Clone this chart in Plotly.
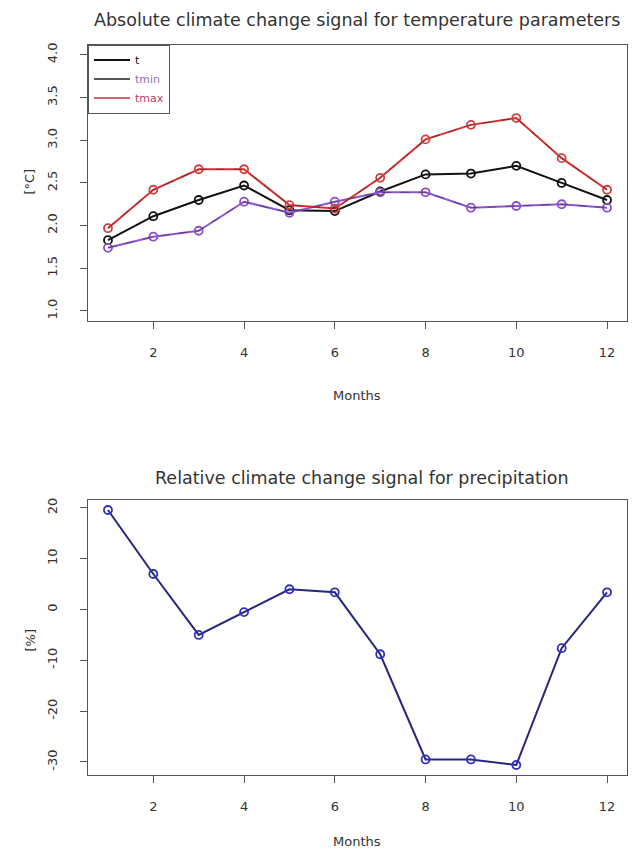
import plotly.graph_objects as go

months = list(range(1, 13))
t_vals = [1.83, 2.11, 2.30, 2.47, 2.18, 2.17, 2.40, 2.60, 2.61, 2.70, 2.50, 2.30]
tmin_vals = [1.74, 1.87, 1.94, 2.28, 2.15, 2.28, 2.39, 2.39, 2.21, 2.23, 2.25, 2.21]
tmax_vals = [1.97, 2.42, 2.66, 2.66, 2.24, 2.20, 2.56, 3.01, 3.18, 3.26, 2.79, 2.42]
precip_vals = [19.6, 7.0, -5.0, -0.5, 4.0, 3.4, -8.8, -29.5, -29.5, -30.6, -7.6, 3.4]

temp_ticks = [1.0, 1.5, 2.0, 2.5, 3.0, 3.5, 4.0]
precip_ticks = [-30, -20, -10, 0, 10, 20]
precip_tick_labels = ["-30", "-20", "-10", "0", "10", "20"]
month_ticks = [2, 4, 6, 8, 10, 12]

FONT = "DejaVu Sans"
TXT = "#333333"
AX = "#555555"

fig = go.Figure()

series = [
    ("t", t_vals, "#111111", "#111111", "#111111", "#111111"),
    ("tmin", tmin_vals, "#9055d0", "#8a50c8", "#9070b8", "#555555"),
    ("tmax", tmax_vals, "#d83030", "#d04040", "#b84060", "#d86070"),
]
for name, vals, lc, mc, tc, legc in series:
    fig.add_trace(go.Scatter(
        x=months, y=vals, mode="lines+markers", xaxis="x", yaxis="y",
        line=dict(color=lc, width=2),
        marker=dict(symbol="circle-open", size=8, color=mc, line=dict(width=1.8, color=mc)),
        showlegend=False, hoverinfo="skip"))
    fig.add_trace(go.Scatter(
        x=months, y=vals, mode="lines", xaxis="x", yaxis="y",
        line=dict(color="#222222", width=1, dash="dash"), opacity=0.45,
        showlegend=False, hoverinfo="skip"))
for name, vals, lc, mc, tc, legc in series:
    fig.add_trace(go.Scatter(
        x=[None], y=[None], mode="lines", xaxis="x", yaxis="y",
        line=dict(color=legc, width=2),
        name=f"<span style='color:{tc}'>{name}</span>", showlegend=True))

fig.add_trace(go.Scatter(
    x=months, y=precip_vals, mode="lines+markers", xaxis="x2", yaxis="y2",
    line=dict(color="#262680", width=2),
    marker=dict(symbol="circle-open", size=8, color="#3030c0", line=dict(width=1.8, color="#3030c0")),
    showlegend=False, hoverinfo="skip"))

axis_common = dict(
    showline=True, mirror=True, linecolor=AX, linewidth=1,
    showgrid=False, zeroline=False, ticks="outside", ticklen=7, tickcolor=AX,
    tickfont=dict(family=FONT, size=13, color=TXT),
)

fig.update_layout(
    width=632, height=852,
    margin=dict(l=0, r=0, t=0, b=0),
    paper_bgcolor="white", plot_bgcolor="white",
    font=dict(family=FONT, color=TXT),
    xaxis=dict(domain=[88/632, 627/632], anchor="y", range=[0.56, 12.44],
               tickvals=month_ticks, ticklabelstandoff=12, **axis_common),
    yaxis=dict(domain=[1 - 320/852, 1 - 42.7/852], anchor="x", range=[0.88, 4.12],
               tickvals=temp_ticks, tickformat=".1f", tickangle=-90,
               ticklabelstandoff=18, **axis_common),
    xaxis2=dict(domain=[88/632, 627/632], anchor="y2", range=[0.56, 12.44],
                tickvals=month_ticks, ticklabelstandoff=12, **axis_common),
    yaxis2=dict(domain=[1 - 775/852, 1 - 499/852], anchor="x2", range=[-32.6, 21.6],
                tickvals=precip_ticks, ticktext=precip_tick_labels, tickangle=-90,
                ticklabelstandoff=18, **axis_common),
    legend=dict(x=88/632, y=1 - 42.7/852, xref="paper", yref="paper",
                xanchor="left", yanchor="top",
                bordercolor=AX, borderwidth=1, bgcolor="white",
                font=dict(family=FONT, size=11, color=TXT),
                itemwidth=36, tracegroupgap=0),
    annotations=[
        dict(text="Absolute climate change signal for temperature parameters",
             x=357/632, y=1 - 18/852, xref="paper", yref="paper", showarrow=False,
             xanchor="center", yanchor="middle",
             font=dict(family=FONT, size=17.5, color=TXT)),
        dict(text="Relative climate change signal for precipitation",
             x=362/632, y=1 - 477/852, xref="paper", yref="paper", showarrow=False,
             xanchor="center", yanchor="middle",
             font=dict(family=FONT, size=17.5, color=TXT)),
        dict(text="Months", x=357/632, y=1 - 394/852, xref="paper", yref="paper",
             showarrow=False, xanchor="center", yanchor="middle",
             font=dict(family=FONT, size=13, color=TXT)),
        dict(text="Months", x=357/632, y=1 - 841/852, xref="paper", yref="paper",
             showarrow=False, xanchor="center", yanchor="middle",
             font=dict(family=FONT, size=13, color=TXT)),
        dict(text="[°C]", x=30/632, y=1 - 180/852, xref="paper", yref="paper",
             showarrow=False, textangle=-90, xanchor="center", yanchor="middle",
             font=dict(family=FONT, size=13, color=TXT)),
        dict(text="[%]", x=30/632, y=1 - 640/852, xref="paper", yref="paper",
             showarrow=False, textangle=-90, xanchor="center", yanchor="middle",
             font=dict(family=FONT, size=13, color=TXT)),
    ],
)

fig.write_html("out.html",
               config={"displayModeBar": False, "staticPlot": True},
               post_script="document.body.style.margin='0px';document.body.style.overflow='hidden';")
